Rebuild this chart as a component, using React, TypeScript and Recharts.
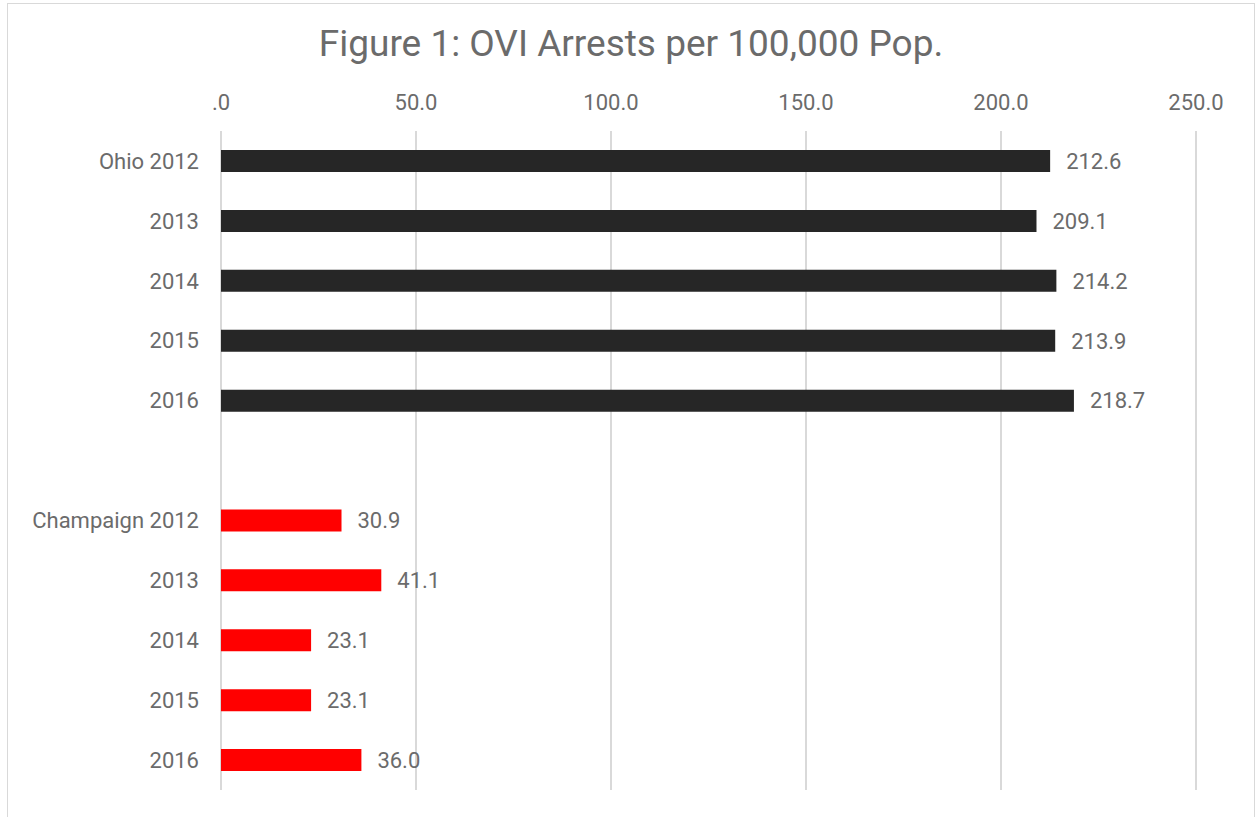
import React from 'react';
import { BarChart, Bar, XAxis, YAxis, CartesianGrid, Cell, LabelList } from 'recharts';

const years = ['2012', '2013', '2014', '2015', '2016'];
const ohioValues = [212.6, 209.1, 214.2, 213.9, 218.7];
const champaignValues = [30.9, 41.1, 23.1, 23.1, 36.0];
const xTicks = [0, 50, 100, 150, 200, 250];

const OHIO_COLOR = '#262626';
const CHAMPAIGN_COLOR = '#ff0000';
const TEXT_COLOR = '#6b6b6b';
const FONT = 'Roboto, "Noto Sans", sans-serif';

type Row = { name: string; value: number | null; color: string };

const rows: Row[] = [
  ...years.map((y, i) => ({ name: i === 0 ? `Ohio ${y}` : y, value: ohioValues[i], color: OHIO_COLOR })),
  { name: '', value: null, color: 'transparent' },
  ...years.map((y, i) => ({ name: i === 0 ? `Champaign ${y}` : y, value: champaignValues[i], color: CHAMPAIGN_COLOR })),
];

const App: React.FC = () => (
  <div style={{ position: 'fixed', left: 0, top: 0, width: 1255, height: 817, overflow: 'hidden', background: '#fff' }}>
    <div
      style={{
        position: 'absolute',
        left: 7,
        top: 3,
        width: 1246,
        height: 830,
        border: '1px solid #d9d9d9',
        fontFamily: FONT,
      }}
    >
      <div
        style={{
          position: 'absolute',
          left: 0,
          width: '100%',
          top: 18,
          textAlign: 'center',
          fontSize: 37,
          color: TEXT_COLOR,
          lineHeight: '44px',
          whiteSpace: 'nowrap',
        }}
      >
        Figure 1: OVI Arrests per 100,000 Pop.
      </div>
      <BarChart
        width={1246}
        height={820}
        data={rows}
        layout="vertical"
        barSize={22}
        margin={{ top: 97, right: 58, left: 0, bottom: 34 }}
        style={{ fontFamily: FONT }}
      >
        <CartesianGrid horizontal={false} vertical stroke="#d9d9d9" strokeWidth={2} />
        <XAxis
          type="number"
          orientation="top"
          domain={[0, 250]}
          ticks={xTicks}
          height={30}
          axisLine={false}
          tickLine={false}
          tickSize={6}
          tickMargin={15}
          tick={{ fill: TEXT_COLOR, fontSize: 22 }}
          tickFormatter={(v: number) => (v === 0 ? '.0' : v.toFixed(1))}
        />
        <YAxis
          type="category"
          dataKey="name"
          width={213}
          axisLine={false}
          tickLine={false}
          tickSize={6}
          tickMargin={16}
          interval={0}
          tick={{ fill: TEXT_COLOR, fontSize: 22 }}
        />
        <Bar dataKey="value" isAnimationActive={false}>
          {rows.map((r, i) => (
            <Cell key={i} fill={r.color} />
          ))}
          <LabelList
            dataKey="value"
            position="right"
            offset={16}
            fill={TEXT_COLOR}
            fontSize={22}
            formatter={(v: any) => (v == null ? '' : Number(v).toFixed(1))}
          />
        </Bar>
      </BarChart>
    </div>
  </div>
);

export default App;
